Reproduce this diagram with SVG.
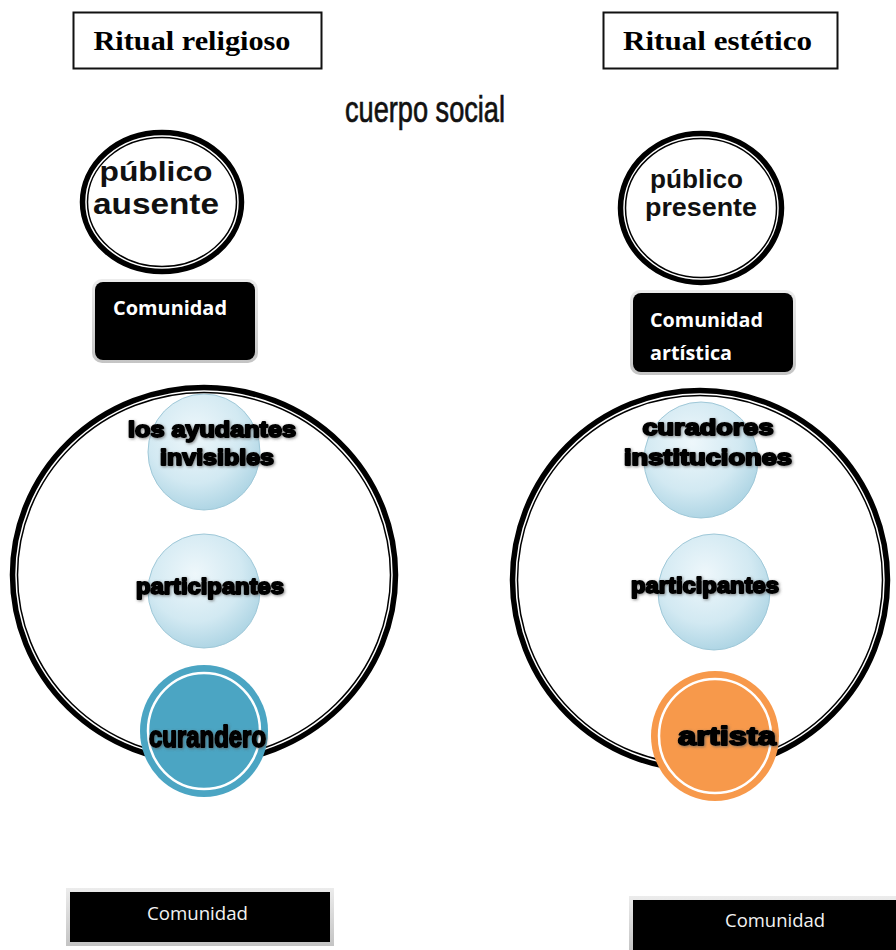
<svg xmlns="http://www.w3.org/2000/svg" width="896" height="950" viewBox="0 0 896 950">
  <style>
    .title { font-family: "Liberation Serif", serif; font-weight: bold; font-size: 28px; fill: #000; }
    .frame { fill: #fff; stroke: #111; stroke-width: 2; }
    .ring-outer { fill: none; stroke: #000; stroke-width: 8.5; }
    .ring-inner { fill: none; stroke: #fff; stroke-width: 1.5; }
    .pub { font-family: "Liberation Sans", Arial, sans-serif; font-weight: bold; fill: #111; text-anchor: middle; }
    .boxtxt { font-family: "Open Sans", "Liberation Sans", sans-serif; font-weight: bold; font-size: 20px; fill: #fff; }
    .bartxt { font-family: "Open Sans", "Liberation Sans", sans-serif; font-size: 18px; fill: #f2f2f2; }
    .heavy { font-family: "Liberation Sans", Arial, sans-serif; font-weight: bold; fill: #000; stroke: #000; stroke-width: 2; stroke-linejoin: round; text-anchor: middle; }
    .bubble { fill: url(#bubbleFill); stroke: #9fc8d8; stroke-width: 1; }
  </style>
  <defs>
    <radialGradient id="bubbleFill" cx="0.42" cy="0.35" r="0.7">
      <stop offset="0" stop-color="#eef7fb"/>
      <stop offset="0.6" stop-color="#d2e9f2"/>
      <stop offset="1" stop-color="#a9d2e2"/>
    </radialGradient>
    <linearGradient id="bevel" x1="0" y1="0" x2="0" y2="1">
      <stop offset="0" stop-color="#ececec"/>
      <stop offset="1" stop-color="#c4c4c4"/>
    </linearGradient>
    <filter id="halo" x="-10%" y="-30%" width="120%" height="160%">
      <feGaussianBlur in="SourceAlpha" stdDeviation="1.6"/>
      <feOffset dx="0.5" dy="1" result="b"/>
      <feFlood flood-color="#555" flood-opacity="0.7"/>
      <feComposite in2="b" operator="in"/>
      <feMerge><feMergeNode/><feMergeNode in="SourceGraphic"/></feMerge>
    </filter>
  </defs>

  <rect width="896" height="950" fill="#fff"/>

  <!-- headings -->
  <g id="title-religioso">
    <rect class="frame" x="73.5" y="12.5" width="248" height="56"/>
    <text class="title" x="192" y="50" text-anchor="middle" textLength="197" lengthAdjust="spacingAndGlyphs">Ritual religioso</text>
  </g>
  <g id="title-estetico">
    <rect class="frame" x="603.5" y="12.5" width="234" height="56"/>
    <text class="title" x="717.5" y="50" text-anchor="middle" textLength="189" lengthAdjust="spacingAndGlyphs">Ritual estético</text>
  </g>
  <g id="cuerpo-social">
    <text x="425" y="122" text-anchor="middle" font-family="Liberation Sans, Arial, sans-serif" font-size="37" fill="#111" stroke="#111" stroke-width="0.7" textLength="160" lengthAdjust="spacingAndGlyphs">cuerpo social</text>
  </g>

  <!-- audience circles -->
  <g id="publico-ausente">
    <ellipse cx="162" cy="202" rx="80" ry="70" fill="#fff"/>
    <ellipse class="ring-outer" cx="162" cy="202" rx="78" ry="68"/>
    <ellipse class="ring-inner" cx="162" cy="202" rx="76" ry="66"/>
    <text class="pub" x="156" y="181" font-size="28" textLength="113" lengthAdjust="spacingAndGlyphs">público</text>
    <text class="pub" x="156" y="214" font-size="30" textLength="126" lengthAdjust="spacingAndGlyphs">ausente</text>
  </g>
  <g id="publico-presente">
    <ellipse cx="701" cy="208" rx="81" ry="75" fill="#fff"/>
    <ellipse class="ring-outer" cx="701" cy="208" rx="79" ry="73"/>
    <ellipse class="ring-inner" cx="701" cy="208" rx="77" ry="71"/>
    <text class="pub" x="696.5" y="188" font-size="25" textLength="93" lengthAdjust="spacingAndGlyphs">público</text>
    <text class="pub" x="701" y="216" font-size="25" textLength="112" lengthAdjust="spacingAndGlyphs">presente</text>
  </g>

  <!-- community boxes -->
  <g id="comunidad-religiosa">
    <rect x="92" y="279" width="166" height="84" rx="10" fill="url(#bevel)"/>
    <rect x="95" y="282" width="160" height="78" rx="8" fill="#000"/>
    <text class="boxtxt" x="113" y="315" textLength="114" lengthAdjust="spacingAndGlyphs">Comunidad</text>
  </g>
  <g id="comunidad-artistica">
    <rect x="630" y="290" width="166" height="85" rx="10" fill="url(#bevel)"/>
    <rect x="633" y="293" width="160" height="79" rx="8" fill="#000"/>
    <text class="boxtxt" x="650" y="327" textLength="113" lengthAdjust="spacingAndGlyphs">Comunidad</text>
    <text class="boxtxt" x="650" y="360" textLength="82" lengthAdjust="spacingAndGlyphs">artística</text>
  </g>

  <!-- inner role bubbles -->
  <g id="ayudantes">
    <ellipse class="bubble" cx="204" cy="452" rx="56" ry="58"/>
  </g>
  <g id="participantes-izq">
    <ellipse class="bubble" cx="204" cy="591" rx="56" ry="57"/>
  </g>
  <g id="curadores">
    <ellipse class="bubble" cx="701" cy="460" rx="57" ry="58"/>
  </g>
  <g id="participantes-der">
    <ellipse class="bubble" cx="714" cy="592" rx="56" ry="58"/>
  </g>

  <!-- social body rings -->
  <g id="cuerpo-religioso">
    <ellipse class="ring-outer" cx="204" cy="575" rx="190" ry="186"/>
    <ellipse class="ring-inner" cx="204" cy="575" rx="188" ry="184"/>
  </g>
  <g id="cuerpo-estetico">
    <ellipse class="ring-outer" cx="700" cy="580" rx="186" ry="188"/>
    <ellipse class="ring-inner" cx="700" cy="580" rx="184" ry="186"/>
  </g>

  <!-- bubble labels -->
  <g filter="url(#halo)">
    <text class="heavy" x="212" y="437" font-size="22" textLength="168" lengthAdjust="spacingAndGlyphs">los ayudantes</text>
    <text class="heavy" x="217" y="465" font-size="22" textLength="114" lengthAdjust="spacingAndGlyphs">invisibles</text>
    <text class="heavy" x="210" y="594" font-size="22" textLength="148" lengthAdjust="spacingAndGlyphs">participantes</text>
    <text class="heavy" x="708" y="435" font-size="22" textLength="131" lengthAdjust="spacingAndGlyphs">curadores</text>
    <text class="heavy" x="708" y="465" font-size="22" textLength="168" lengthAdjust="spacingAndGlyphs">instituciones</text>
    <text class="heavy" x="705" y="593" font-size="22" textLength="148" lengthAdjust="spacingAndGlyphs">participantes</text>
  </g>

  <!-- central figures -->
  <g id="curandero">
    <ellipse cx="204" cy="731" rx="64" ry="66" fill="#4ba5c3"/>
    <ellipse cx="204" cy="731" rx="56" ry="58" fill="none" stroke="#fff" stroke-width="2.5"/>
    <text class="heavy" x="207.5" y="747" font-size="30" textLength="117" lengthAdjust="spacingAndGlyphs" filter="url(#halo)">curandero</text>
  </g>
  <g id="artista">
    <ellipse cx="715" cy="736" rx="64" ry="65" fill="#f7994b"/>
    <ellipse cx="715" cy="736" rx="56" ry="57" fill="none" stroke="#fff" stroke-width="2.5"/>
    <text class="heavy" x="727" y="745" font-size="26" textLength="98" lengthAdjust="spacingAndGlyphs" filter="url(#halo)">artista</text>
  </g>

  <!-- bottom community bars -->
  <g id="comunidad-base-izq">
    <rect x="66" y="888" width="268" height="58" fill="url(#bevel)"/>
    <rect x="70" y="892" width="260" height="50" fill="#000"/>
    <text class="bartxt" x="197.5" y="920" text-anchor="middle" textLength="101" lengthAdjust="spacingAndGlyphs">Comunidad</text>
  </g>
  <g id="comunidad-base-der">
    <rect x="629" y="896" width="267" height="54" fill="url(#bevel)"/>
    <rect x="633" y="900" width="263" height="50" fill="#000"/>
    <text class="bartxt" x="775" y="927" text-anchor="middle" textLength="100" lengthAdjust="spacingAndGlyphs">Comunidad</text>
  </g>
</svg>
